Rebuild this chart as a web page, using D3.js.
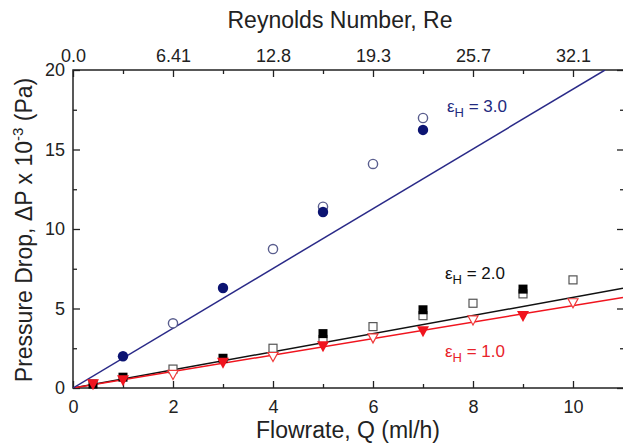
<!DOCTYPE html>
<html>
<head>
<meta charset="utf-8">
<script src="https://cdn.jsdelivr.net/npm/d3@7"></script>
<style>
  body { margin: 0; background: #fff; }
  svg { font-family: Arial, "Liberation Sans", sans-serif; }
</style>
</head>
<body>
<svg width="623" height="444"></svg>
<script>
// flowrate Q (ml/h) and pressure drop (x 10^-3 Pa)
var blueFilledQ = [1, 3, 5, 7];
var blueFilledDP = [2.0, 6.29, 11.07, 16.23];
var blueOpenQ = [2, 4, 5, 6, 7];
var blueOpenDP = [4.07, 8.74, 11.4, 14.09, 16.98];

var blackFilledQ = [0.4, 1, 3, 5, 7, 9];
var blackFilledDP = [0.25, 0.68, 1.87, 3.42, 4.92, 6.22];
var blackOpenQ = [2, 4, 5, 6, 7, 8, 9, 10];
var blackOpenDP = [1.19, 2.5, 3.05, 3.86, 4.55, 5.33, 5.92, 6.8];

var redFilledQ = [0.4, 1, 3, 5, 7, 9];
var redFilledDP = [0.2, 0.45, 1.55, 2.6, 3.54, 4.49];
var redOpenQ = [2, 4, 6, 8, 10];
var redOpenDP = [0.82, 1.95, 3.12, 4.25, 5.33];

// fitted lines, end points
var blueFit = [[0, 0], [10.64, 20]];
var blackFit = [[0, 0], [11, 6.27]];
var redFit = [[0, 0], [11, 5.7]];

// axis ticks
var qTicks = [0, 2, 4, 6, 8, 10];
var qMinor = [1, 3, 5, 7, 9];
var reLabels = ["0.0", "6.41", "12.8", "19.3", "25.7", "32.1"];
var dpTicks = [0, 5, 10, 15, 20];
var dpMinor = [2.5, 7.5, 12.5, 17.5];

var svg = d3.select("svg");
var padL = 73, padR = 623, padT = 70, padB = 388;

var x = d3.scaleLinear().domain([0, 11]).range([padL, padR]);
var y = d3.scaleLinear().domain([0, 20]).range([padB, padT]);

var BLACK = "#000", RED = "#f0141e";

// frame
svg.append("rect")
    .attr("x", padL).attr("y", padT)
    .attr("width", padR + 1 - padL).attr("height", padB - padT)
    .attr("fill", "none").attr("stroke", "#222").attr("stroke-width", 1.5);

function styleAxis(g) {
    g.select(".domain").remove();
    g.selectAll("line").attr("stroke", "#222").attr("stroke-width", 1.3);
    g.selectAll("text").attr("font-size", 18).attr("fill", "#222")
        .attr("font-family", "Arial, 'Liberation Sans', sans-serif");
}

// bottom axis
svg.append("g").attr("transform", "translate(0," + padB + ")")
    .call(d3.axisBottom(x).tickValues(qTicks).tickSize(-7).tickPadding(12).tickFormat(d3.format("d")))
    .call(styleAxis);
svg.append("g").attr("transform", "translate(0," + padB + ")")
    .call(d3.axisBottom(x).tickValues(qMinor).tickSize(-4).tickFormat(""))
    .call(styleAxis);

// top axis (Reynolds number)
svg.append("g").attr("transform", "translate(0," + padT + ")")
    .call(d3.axisTop(x).tickValues(qTicks).tickSize(-7).tickPadding(8)
        .tickFormat(function(d, i) { return reLabels[i]; }))
    .call(styleAxis);
svg.append("g").attr("transform", "translate(0," + padT + ")")
    .call(d3.axisTop(x).tickValues(qMinor).tickSize(-4).tickFormat(""))
    .call(styleAxis);

// left axis
svg.append("g").attr("transform", "translate(" + padL + ",0)")
    .call(d3.axisLeft(y).tickValues(dpTicks).tickSize(-7).tickPadding(8).tickFormat(d3.format("d")))
    .call(styleAxis);
svg.append("g").attr("transform", "translate(" + padL + ",0)")
    .call(d3.axisLeft(y).tickValues(dpMinor).tickSize(-4).tickFormat(""))
    .call(styleAxis);

// right axis (ticks only, inward)
svg.append("g").attr("transform", "translate(" + (padR + 1) + ",0)")
    .call(d3.axisRight(y).tickValues(dpTicks).tickSize(-7).tickFormat(""))
    .call(styleAxis);
svg.append("g").attr("transform", "translate(" + (padR + 1) + ",0)")
    .call(d3.axisRight(y).tickValues(dpMinor).tickSize(-4).tickFormat(""))
    .call(styleAxis);

// axis titles
svg.append("text").attr("x", 340).attr("y", 28).attr("text-anchor", "middle")
    .attr("font-size", 23).attr("fill", "#222").text("Reynolds Number, Re");
svg.append("text").attr("x", 348).attr("y", 438).attr("text-anchor", "middle")
    .attr("font-size", 23).attr("fill", "#222").text("Flowrate, Q (ml/h)");

var yt = svg.append("text")
    .attr("transform", "translate(32," + 230 + ") rotate(-90)")
    .attr("text-anchor", "middle").attr("font-size", 23).attr("fill", "#222");
yt.append("tspan").text("Pressure Drop, \u0394P x 10");
yt.append("tspan").attr("font-size", 15).attr("dy", -9).text("-3");
yt.append("tspan").attr("dy", 9).text(" (Pa)");

// fit lines
var line = d3.line().x(function(d) { return x(d[0]); }).y(function(d) { return y(d[1]); });
svg.append("clipPath").attr("id", "plotclip")
    .append("rect").attr("x", padL).attr("y", padT).attr("width", padR - padL + 1).attr("height", padB - padT);

var lines = svg.append("g").attr("clip-path", "url(#plotclip)");
lines.append("path").datum(blackFit).attr("d", line)
    .attr("fill", "none").attr("stroke", "#111").attr("stroke-width", 1.5);
lines.append("path").datum(redFit).attr("d", line)
    .attr("fill", "none").attr("stroke", RED).attr("stroke-width", 1.5);
lines.append("path").datum(blueFit).attr("d", line)
    .attr("fill", "none").attr("stroke", "#2a2a88").attr("stroke-width", 1.5);

function pairs(qs, vs) {
    return qs.map(function(q, i) { return [q, vs[i]]; });
}

var pts = svg.append("g");

// circles
pts.selectAll(".bo").data(pairs(blueOpenQ, blueOpenDP)).enter().append("circle")
    .attr("cx", function(d) { return x(d[0]); }).attr("cy", function(d) { return y(d[1]); })
    .attr("r", 4.6).attr("fill", "#fff").attr("stroke", "#5a5e8e").attr("stroke-width", 1.4);
pts.selectAll(".bf").data(pairs(blueFilledQ, blueFilledDP)).enter().append("circle")
    .attr("cx", function(d) { return x(d[0]); }).attr("cy", function(d) { return y(d[1]); })
    .attr("r", 5.2).attr("fill", "#0c1472");

// squares
pts.selectAll(".ko").data(pairs(blackOpenQ, blackOpenDP)).enter().append("rect")
    .attr("x", function(d) { return x(d[0]) - 4; }).attr("y", function(d) { return y(d[1]) - 4; })
    .attr("width", 8).attr("height", 8)
    .attr("fill", "#fff").attr("stroke", "#555").attr("stroke-width", 1.2);
pts.selectAll(".kf").data(pairs(blackFilledQ, blackFilledDP)).enter().append("rect")
    .attr("x", function(d) { return x(d[0]) - 4.5; }).attr("y", function(d) { return y(d[1]) - 4.5; })
    .attr("width", 9).attr("height", 9).attr("fill", BLACK);

// down triangles
function downTri(hw, hh) {
    return function(d) {
        var cx = x(d[0]), cy = y(d[1]);
        return "M" + (cx - hw) + "," + (cy - hh) + "L" + (cx + hw) + "," + (cy - hh) + "L" + cx + "," + (cy + hh) + "Z";
    };
}
pts.selectAll(".ro").data(pairs(redOpenQ, redOpenDP)).enter().append("path")
    .attr("d", downTri(5, 4.5)).attr("fill", "#fff").attr("stroke", "#f03a3a").attr("stroke-width", 1.2);
pts.selectAll(".rf").data(pairs(redFilledQ, redFilledDP)).enter().append("path")
    .attr("d", downTri(6, 5.5)).attr("fill", RED);

// series labels
function epsLabel(xp, yp, val, color) {
    var t = svg.append("text").attr("x", xp).attr("y", yp).attr("font-size", 17).attr("fill", color);
    t.append("tspan").text("\u03b5");
    t.append("tspan").attr("font-size", 13).attr("dy", 5).text("H");
    t.append("tspan").attr("dy", -5).text(" = " + val);
}
epsLabel(447, 112, "3.0", "#232a80");
epsLabel(445, 279, "2.0", "#111");
epsLabel(445, 357, "1.0", "#e8232b");
</script>
</body>
</html>
